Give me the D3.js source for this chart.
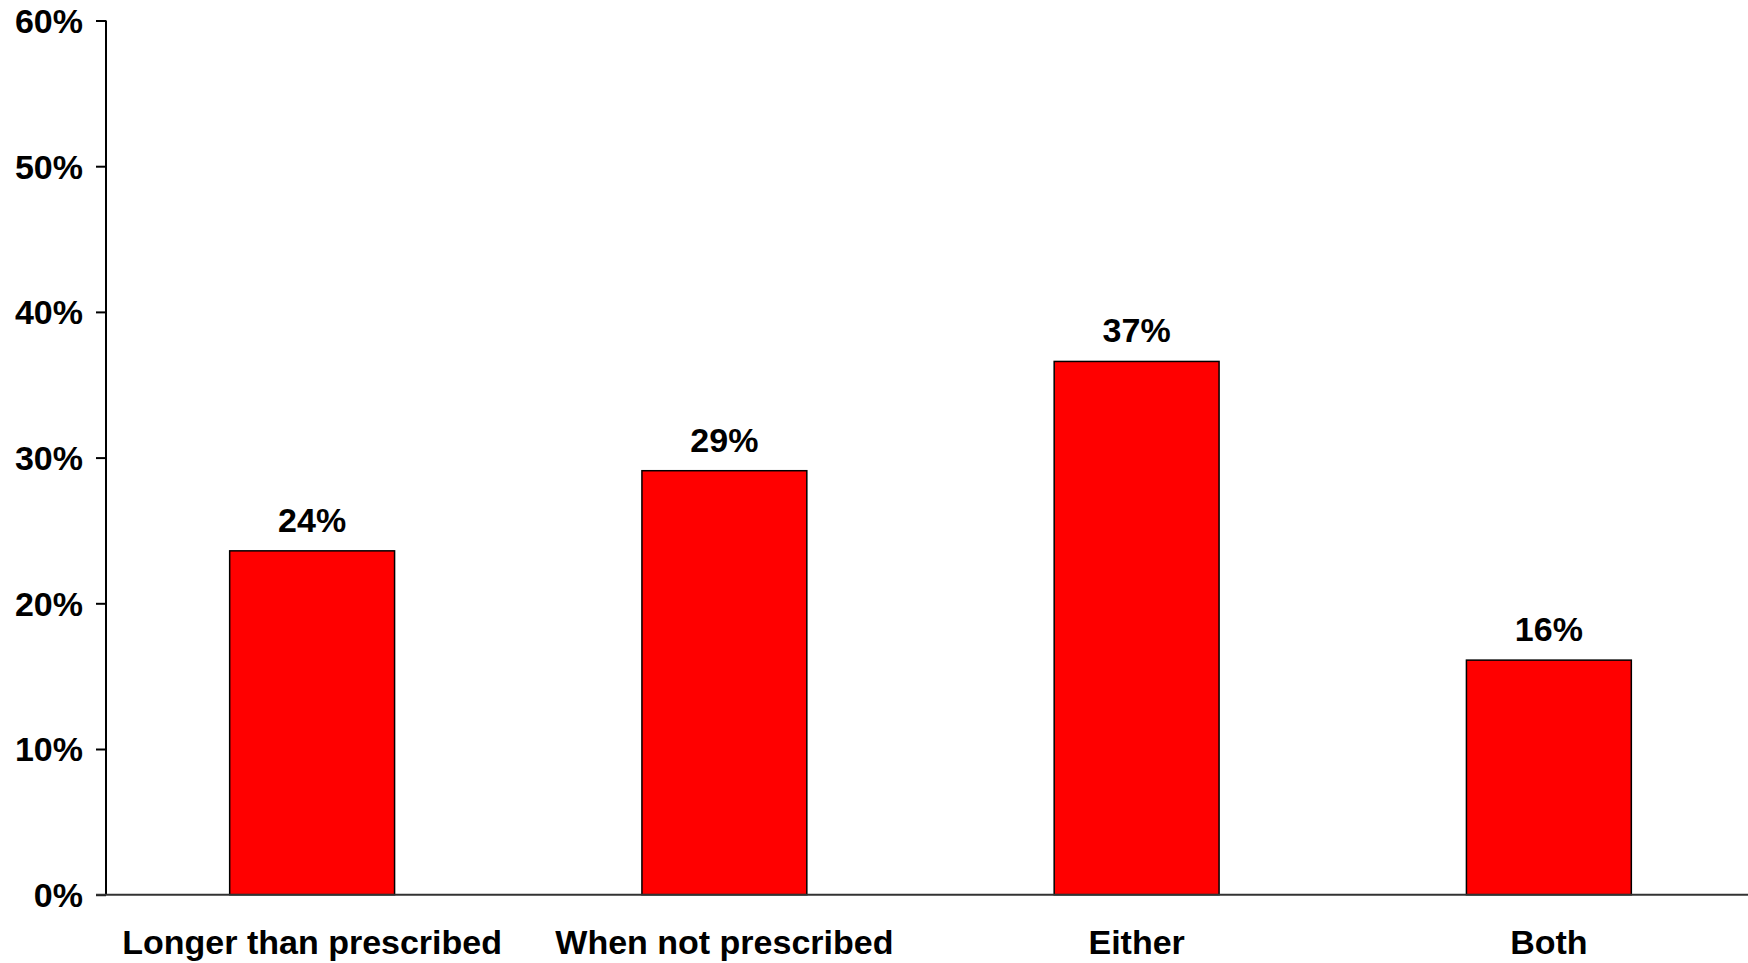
<!DOCTYPE html>
<html>
<head>
<meta charset="utf-8">
<script src="https://cdn.jsdelivr.net/npm/d3@7"></script>
<style>
  html, body { margin: 0; padding: 0; background: #fff; }
  svg { display: block; }
  text { font-family: "Liberation Sans", Arial, sans-serif; font-weight: bold; fill: #000; }
</style>
</head>
<body>
<svg id="chart" width="1748" height="963"></svg>
<script>
const categories = ["Longer than prescribed", "When not prescribed", "Either", "Both"];
const values = [23.6, 29.1, 36.6, 16.1];
const valueLabels = ["24%", "29%", "37%", "16%"];
const yTicks = [0, 10, 20, 30, 40, 50, 60];
const yTickLabels = ["0%", "10%", "20%", "30%", "40%", "50%", "60%"];

const svg = d3.select("#chart");
const x0 = 106, x1 = 1755, yBottom = 894.7, yTop = 20.5;
const fs = 34;

const x = d3.scaleBand().domain(categories).range([x0, x1]).paddingInner(0.6).paddingOuter(0.3);
const y = d3.scaleLinear().domain([0, 60]).range([yBottom, yTop]);

// bars
svg.append("g").selectAll("rect").data(values).join("rect")
  .attr("x", (d, i) => x(categories[i]))
  .attr("y", d => y(d))
  .attr("width", x.bandwidth())
  .attr("height", d => y(0) - y(d))
  .attr("fill", "#ff0000")
  .attr("stroke", "#000")
  .attr("stroke-width", 1.5);

// value labels
svg.append("g").selectAll("text").data(values).join("text")
  .attr("x", (d, i) => x(categories[i]) + x.bandwidth() / 2)
  .attr("y", d => y(d) - 19)
  .attr("text-anchor", "middle")
  .attr("font-size", fs)
  .text((d, i) => valueLabels[i]);

// y axis
const yAxis = d3.axisLeft(y).tickValues(yTicks)
  .tickFormat((d, i) => yTickLabels[i]).tickSize(10).tickPadding(13);
const gy = svg.append("g").attr("transform", `translate(${x0},0)`).call(yAxis);
gy.select(".domain").attr("stroke", "#000").attr("stroke-width", 2)
  .attr("d", `M0,${yTop}V${yBottom}`);
gy.selectAll(".tick line").attr("stroke", "#000").attr("stroke-width", 2);
gy.selectAll(".tick text").attr("font-size", fs).attr("dy", "0.35em")
  .style("font-family", "'Liberation Sans', Arial, sans-serif").style("font-weight", "bold");

// x axis
const xAxis = d3.axisBottom(x).tickSize(0).tickPadding(59);
const gx = svg.append("g").attr("transform", `translate(0,${yBottom})`).call(xAxis);
gx.select(".domain").attr("stroke", "#333").attr("stroke-width", 2)
  .attr("d", `M${x0 - 10},0H${x1}`);
gx.selectAll(".tick text").attr("font-size", fs).attr("dy", "0")
  .style("font-family", "'Liberation Sans', Arial, sans-serif").style("font-weight", "bold");
gx.selectAll(".tick line").remove();
</script>
</body>
</html>
